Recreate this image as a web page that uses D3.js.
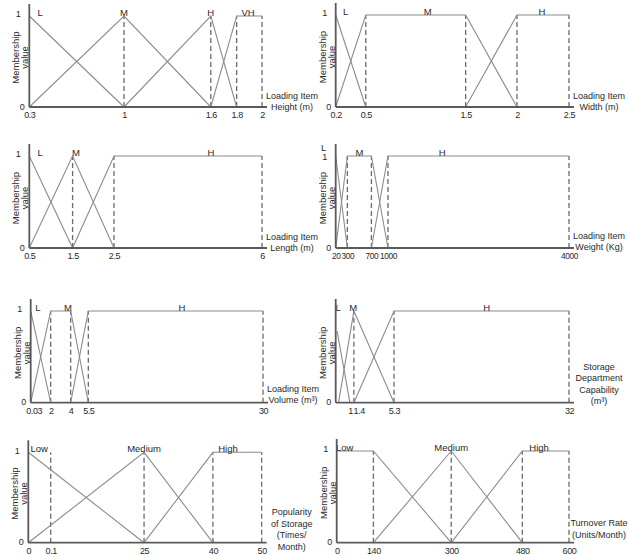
<!DOCTYPE html>
<html><head><meta charset="utf-8">
<script src="https://cdn.jsdelivr.net/npm/d3@7"></script>
<style>
body{margin:0;background:#fff;}
svg{display:block;font-family:"Liberation Sans",Arial,sans-serif;}
</style></head>
<body><svg id="c" width="629" height="555"></svg>
<script>
// ---------- DATA ----------
const heightTicks = [0.3, 1, 1.6, 1.8, 2];
const heightDashed = [1, 1.6, 1.8, 2];
const heightSets = [
  {name: "L",  at: 0.38, pts: [[0.3, 1], [1, 0]]},
  {name: "M",  at: 1,    pts: [[0.3, 0], [1, 1], [1.6, 0]]},
  {name: "H",  at: 1.6,  pts: [[1, 0], [1.6, 1], [1.8, 0]]},
  {name: "VH", at: 1.89, pts: [[1.6, 0], [1.8, 1], [2, 1]]}
];
const widthTicks = [0.2, 0.5, 1.5, 2, 2.5];
const widthDashed = [0.5, 1.5, 2, 2.5];
const widthSets = [
  {name: "L", at: 0.3,  pts: [[0.2, 1], [0.5, 0]]},
  {name: "M", at: 1.12, pts: [[0.2, 0], [0.5, 1], [1.5, 1], [2, 0]]},
  {name: "H", at: 2.24, pts: [[1.5, 0], [2, 1], [2.5, 1]]}
];
const lengthTicks = [0.5, 1.5, 2.5, 6];
const lengthDashed = [1.5, 2.5, 6];
const lengthSets = [
  {name: "L", at: 0.75, pts: [[0.5, 1], [1.5, 0]]},
  {name: "M", at: 1.58, pts: [[0.5, 0], [1.5, 1], [2.5, 0]]},
  {name: "H", at: 4.79, pts: [[1.5, 0], [2.5, 1], [6, 1]]}
];
const weightTicks = [20, 300, 700, 1000, 4000];
const weightDashed = [300, 700, 1000, 4000];
const weightSets = [
  {name: "L", at: 20,   pts: [[20, 1], [300, 0]]},
  {name: "M", at: 500,  pts: [[20, 0], [300, 1], [700, 1], [1000, 0]]},
  {name: "H", at: 1900, pts: [[700, 0], [1000, 1], [4000, 1]]}
];
const volumeTicks = [0.03, 2, 4, 5.5, 30];
const volumeDashed = [2, 4, 5.5, 30];
const volumeSets = [
  {name: "L", at: 0.75,  pts: [[0.03, 1], [2, 0]]},
  {name: "M", at: 3.73,  pts: [[0.03, 0], [2, 1], [4, 1], [5.5, 0]]},
  {name: "H", at: 18.63, pts: [[4, 0], [5.5, 1], [30, 1]]}
];
const capabilityTicks = [0, 1, 1.4, 5.3, 32];
const capabilityTickLabels = ["", "1", "1.4", "5.3", "32"];
const capabilityDashed = [1.4, 5.3, 32];
const capabilitySets = [
  {name: "L", at: 0.17,  pts: [[0.1, 0.78], [1, 0]]},
  {name: "M", at: 1.34,  pts: [[0.2, 0], [1.4, 1], [5.3, 0]]},
  {name: "H", at: 19.43, pts: [[1.4, 0], [5.3, 1], [32, 1]]}
];
const popularityTicks = [0, 0.1, 25, 40, 50];
const popularityDashed = [0.1, 25, 40, 50];
const popularitySets = [
  {name: "Low",    at: 0.049, pts: [[0, 1], [25, 0]]},
  {name: "Medium", at: 25,    pts: [[0, 0], [25, 1], [40, 0]]},
  {name: "High",   at: 43.09, pts: [[25, 0], [40, 1], [50, 1]]}
];
const turnoverTicks = [0, 140, 300, 480, 600];
const turnoverDashed = [140, 300, 480, 600];
const turnoverSets = [
  {name: "Low",    at: 30.5, pts: [[0, 1], [140, 1], [300, 0]]},
  {name: "Medium", at: 300,  pts: [[140, 0], [300, 1], [480, 0]]},
  {name: "High",   at: 523,  pts: [[300, 0], [480, 1], [600, 1]]}
];

// ---------- LAYOUT ----------
const panels = [
  {ticks: heightTicks, dashed: heightDashed, sets: heightSets,
   title: ["Loading Item", "Height (m)"], titleDy: 0,
   box: [29.3, 262, 16, 107], frac: [0, 0.407, 0.780, 0.891, 1]},
  {ticks: widthTicks, dashed: widthDashed, sets: widthSets,
   title: ["Loading Item", "Width (m)"], titleDy: 0,
   box: [335.7, 569, 15, 107], frac: [0, 0.129, 0.557, 0.777, 1]},
  {ticks: lengthTicks, dashed: lengthDashed, sets: lengthSets,
   title: ["Loading Item", "Length (m)"], titleDy: 0,
   box: [29.3, 262, 156, 248], frac: [0, 0.186, 0.364, 1]},
  {ticks: weightTicks, dashed: weightDashed, sets: weightSets,
   title: ["Loading Item", "Weight (Kg)"], titleDy: -1, tickFont: 8.3,
   box: [335.7, 569, 156, 248], frac: [0, 0.050, 0.153, 0.224, 1],
   labelShift: {L: [-12, -5]}, oneDy: 3},
  {ticks: volumeTicks, dashed: volumeDashed, sets: volumeSets,
   title: ["Loading Item", "Volume (m³)"], titleDy: -2.5,
   box: [30.7, 263, 311, 402.7], frac: [0, 0.086, 0.172, 0.248, 1], firstShift: 3},
  {ticks: capabilityTicks, tickLabels: capabilityTickLabels, dashed: capabilityDashed, sets: capabilitySets,
   title: ["Storage", "Department", "Capability", "(m³)"], titleDy: -1.5, noOne: true,
   box: [335.7, 569, 311, 402.7], frac: [0, 0.061, 0.078, 0.250, 1],
   anchors: {"1": ["end", 2.5], "1.4": ["start", -0.8]}},
  {ticks: popularityTicks, dashed: popularityDashed, sets: popularitySets,
   title: ["Popularity", "of Storage", "(Times/", "Month)"], titleDy: 4,
   box: [28.3, 261.7, 452.3, 542.7], frac: [0, 0.096, 0.496, 0.791, 1]},
  {ticks: turnoverTicks, dashed: turnoverDashed, sets: turnoverSets,
   title: ["Turnover Rate", "(Units/Month)"], titleDy: -8,
   box: [336.7, 569, 451, 542.7], frac: [0, 0.158, 0.493, 0.799, 1]}
];

const svg = d3.select("#c");
const lineCol = "#8c8c8c", dashCol = "#6a6a6a", axisCol = "#5a5a5a", textCol = "#2a2a2a";

panels.forEach(p => {
  const [L, R, T, B] = p.box;
  const x = d3.scaleLinear().domain(p.ticks).range(p.frac.map(f => L + f * (R - L)));
  const y = d3.scaleLinear().domain([0, 1]).range([B, T]);
  const g = svg.append("g");

  // dashed guides
  g.selectAll("line.dash").data(p.dashed).join("line")
    .attr("x1", d => x(d)).attr("x2", d => x(d))
    .attr("y1", y(0)).attr("y2", y(1))
    .attr("stroke", dashCol).attr("stroke-width", 1.3).attr("stroke-dasharray", "5,3");

  // membership functions
  const ln = d3.line().x(d => x(d[0])).y(d => y(d[1]));
  g.selectAll("path.mf").data(p.sets).join("path")
    .attr("d", d => ln(d.pts)).attr("fill", "none")
    .attr("stroke", lineCol).attr("stroke-width", 1.1);

  // set labels
  const sh = d => (p.labelShift && p.labelShift[d.name]) ? p.labelShift[d.name] : [0, 0];
  g.selectAll("text.set").data(p.sets).join("text")
    .attr("x", d => x(d.at) + sh(d)[0])
    .attr("y", d => y(1) + sh(d)[1])
    .attr("text-anchor", "middle").attr("font-size", 9.5).attr("fill", textCol)
    .text(d => d.name);

  // axes lines
  g.append("line").attr("x1", L).attr("x2", R + 5).attr("y1", B).attr("y2", B)
    .attr("stroke", axisCol).attr("stroke-width", 1.8);
  g.append("line").attr("x1", L).attr("x2", L).attr("y1", B).attr("y2", T - 12)
    .attr("stroke", axisCol).attr("stroke-width", 1.8);

  // x tick labels through d3 axis
  const labels = p.tickLabels || p.ticks.map(String);
  const ax = d3.axisBottom(x).tickValues(p.ticks).tickSize(0).tickPadding(5)
    .tickFormat((d, i) => labels[i]);
  const axg = g.append("g").attr("transform", `translate(0,${B})`).call(ax);
  axg.select(".domain").remove();
  axg.selectAll("text").attr("font-size", p.tickFont || 9).attr("fill", textCol)
    .attr("font-family", "Liberation Sans, Arial, sans-serif").attr("letter-spacing", "-0.4px")
    .each(function(d, i) {
      const t = d3.select(this), lab = labels[i];
      if (p.anchors && p.anchors[lab]) {
        t.attr("text-anchor", p.anchors[lab][0]).attr("x", p.anchors[lab][1]);
      }
      if (i === 0 && p.firstShift) t.attr("x", p.firstShift);
    });

  // y tick labels
  const yt = p.noOne ? [0] : [0, 1];
  const ayg = g.append("g").attr("transform", `translate(${L},0)`)
    .call(d3.axisLeft(y).tickValues(yt).tickSize(0).tickFormat(d3.format("d")));
  ayg.select(".domain").remove();
  ayg.selectAll(".tick text")
    .attr("x", d => d === 1 ? -11 : -7)
    .attr("y", d => d === 1 ? (p.oneDy || 0) : 0)
    .attr("dy", d => d === 1 ? "0.1em" : "0.25em")
    .attr("text-anchor", "middle").attr("font-size", 9).attr("fill", textCol)
    .attr("font-family", "Liberation Sans, Arial, sans-serif");

  // y axis title
  const my = (T + B) / 2 - 4;
  g.append("text").attr("transform", `translate(${L - 13.5},${my}) rotate(-90)`)
    .attr("text-anchor", "middle").attr("dy", "0.35em").attr("font-size", 9.5).attr("fill", textCol)
    .text("Membership");
  g.append("text").attr("transform", `translate(${L - 4.5},${my}) rotate(-90)`)
    .attr("text-anchor", "middle").attr("dy", "0.35em").attr("font-size", 9.5).attr("fill", textCol)
    .text("value");

  // x axis title
  const n = p.title.length, lh = 11.5;
  g.selectAll("text.xt").data(p.title).join("text")
    .attr("x", R + 30).attr("y", (d, i) => B + p.titleDy - (n - 1 - i) * lh)
    .attr("dy", "0.35em").attr("text-anchor", "middle")
    .attr("font-size", 9).attr("fill", textCol).text(d => d);
});
</script></body></html>
